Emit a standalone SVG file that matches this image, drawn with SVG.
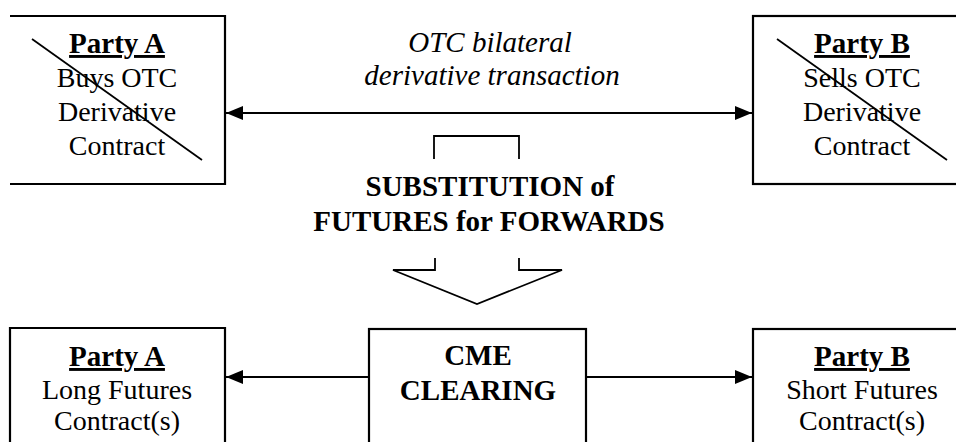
<svg xmlns="http://www.w3.org/2000/svg" width="956" height="442" viewBox="0 0 956 442">
<defs>
<style>
.box{fill:none;stroke:#000;stroke-width:2.2}
.t{font-family:"Liberation Serif","Times New Roman",serif;font-size:28px;fill:#000;text-anchor:middle}
.b{font-weight:bold;font-size:29px}
.i{font-style:italic;font-size:29px}
.u{text-decoration:underline}
.x{stroke:#000;stroke-width:1.8}
.ln{stroke:#000;stroke-width:2.2;fill:none}
.sh{stroke:#000;stroke-width:1.8;fill:none}
</style>
<marker id="ah" viewBox="0 0 17 14" refX="17" refY="7" markerWidth="17" markerHeight="14" markerUnits="userSpaceOnUse" orient="auto">
<path d="M0,0 L17,7 L0,14 Z" fill="#000"/>
</marker>
</defs>
<rect width="956" height="442" fill="#fff"/>

<g id="partyA-top">
<path class="box" d="M10,16 H225 V184 H10"/>
<text class="t b u" x="117" y="53">Party A</text>
<text class="t" x="117" y="87">Buys OTC</text>
<text class="t" x="117" y="121">Derivative</text>
<text class="t" x="117" y="155">Contract</text>
<line class="x" x1="32" y1="39" x2="202" y2="160"/>
</g>

<g id="partyB-top">
<rect class="box" x="753" y="16" width="218" height="168"/>
<text class="t b u" x="862" y="53">Party B</text>
<text class="t" x="862" y="87">Sells OTC</text>
<text class="t" x="862" y="121">Derivative</text>
<text class="t" x="862" y="155">Contract</text>
<line class="x" x1="777" y1="39" x2="947" y2="160"/>
</g>

<g id="otc-label">
<text class="t i" x="490" y="52">OTC bilateral</text>
<text class="t i" x="492" y="85">derivative transaction</text>
</g>

<g id="substitution">
<path class="sh" d="M434,159 V136 H519 V159"/>
<text class="t b" x="490" y="196">SUBSTITUTION of</text>
<text class="t b" x="489" y="231">FUTURES for FORWARDS</text>
<path class="sh" d="M435,258 V270 H393 L477,304 L562,270 H519 V258"/>
</g>

<g id="partyA-bottom">
<path class="box" d="M10,460 V328 H225 V460"/>
<text class="t b u" x="117" y="366">Party A</text>
<text class="t" x="117" y="399">Long Futures</text>
<text class="t" x="117" y="430">Contract(s)</text>
</g>

<g id="cme">
<rect class="box" x="369" y="329" width="217" height="140"/>
<text class="t b" x="478" y="365">CME</text>
<text class="t b" x="478" y="400">CLEARING</text>
</g>

<g id="partyB-bottom">
<rect class="box" x="753" y="329" width="218" height="140"/>
<text class="t b u" x="862" y="366">Party B</text>
<text class="t" x="862" y="399">Short Futures</text>
<text class="t" x="862" y="430">Contract(s)</text>
</g>

<g id="connectors">
<line class="ln" x1="489" y1="113" x2="226" y2="113" marker-end="url(#ah)"/>
<line class="ln" x1="489" y1="113" x2="752" y2="113" marker-end="url(#ah)"/>
<line class="ln" x1="369" y1="377" x2="226" y2="377" marker-end="url(#ah)"/>
<line class="ln" x1="586" y1="377" x2="752" y2="377" marker-end="url(#ah)"/>
</g>
</svg>
